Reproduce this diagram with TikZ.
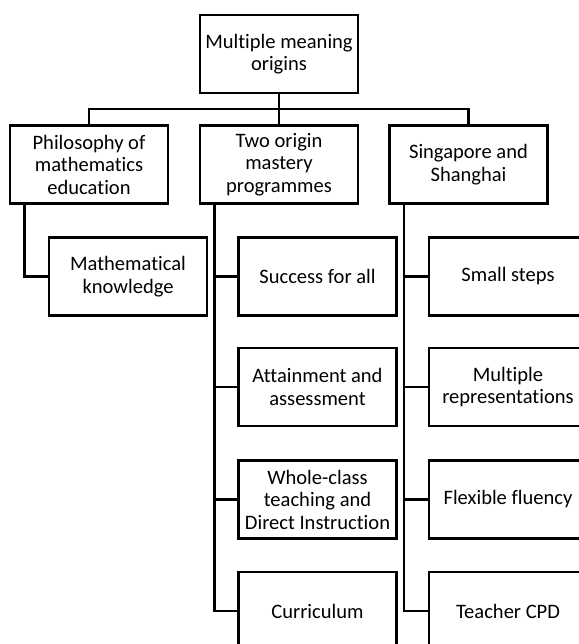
\documentclass[tikz,border=0pt]{standalone}
\usepackage{fontspec}
\setmainfont{Carlito}[Ligatures=NoCommon]

\tikzset{
  box/.style={draw, line width=2.1pt, minimum width=118.5pt, minimum height=58.5pt,
    inner sep=1pt, align=center, font=\fontsize{15.4}{16.9}\selectfont},
  link/.style={line width=1.8pt}
}

\begin{document}
\begin{tikzpicture}[x=0.75pt, y=-0.75pt]
\useasboundingbox (0,0) rectangle (579,644);
\clip (0,0) rectangle (579,644);

% Root
\node[box] (root) at (279,54) {Multiple meaning\\origins};

% First level
\node[box] (philo) at (89,164.5) {Philosophy of\\mathematics\\education};
\node[box] (mastery) at (279,164.5) {Two origin\\mastery\\programmes};
\node[box] (asia) at (468.5,164.5) {Singapore and\\Shanghai};

% Bar joining the first level to the root
\coordinate (bar) at (279,109);
\draw[link] (root.south) -- (bar) -| (philo.north);
\draw[link] (bar) -- (mastery.north);
\draw[link] (bar) -| (asia.north);

% Trunks under the first level
\coordinate (philo-trunk) at ([xshift=12pt]philo.south west);
\coordinate (mastery-trunk) at ([xshift=12pt]mastery.south west);
\coordinate (asia-trunk) at ([xshift=12pt]asia.south west);

% Philosophy column
\node[box] (know) at (128,276.5) {Mathematical\\knowledge};
\draw[link] (philo-trunk) |- (know.west);

% Mastery column
\node[box] (success) at (317.5,276.5) {Success for all};
\node[box] (assess) at (317.5,387) {Attainment and\\assessment};
\node[box] (wholeclass) at (317.5,499.5) {Whole-class\\teaching and\\Direct Instruction};
\node[box] (curric) at (317.5,611) {Curriculum};
\draw[link] (mastery-trunk) |- (success.west);
\draw[link] (mastery-trunk) |- (assess.west);
\draw[link] (mastery-trunk) |- (wholeclass.west);
\draw[link] (mastery-trunk) |- (curric.west);

% Singapore and Shanghai column
\node[box] (steps) at (508,276.5) {Small steps};
\node[box] (reps) at (508,387) {Multiple\\representations};
\node[box] (fluency) at (508,499.5) {Flexible fluency};
\node[box] (cpd) at (508,611) {Teacher CPD};
\draw[link] (asia-trunk) |- (steps.west);
\draw[link] (asia-trunk) |- (reps.west);
\draw[link] (asia-trunk) |- (fluency.west);
\draw[link] (asia-trunk) |- (cpd.west);

\end{tikzpicture}
\end{document}
